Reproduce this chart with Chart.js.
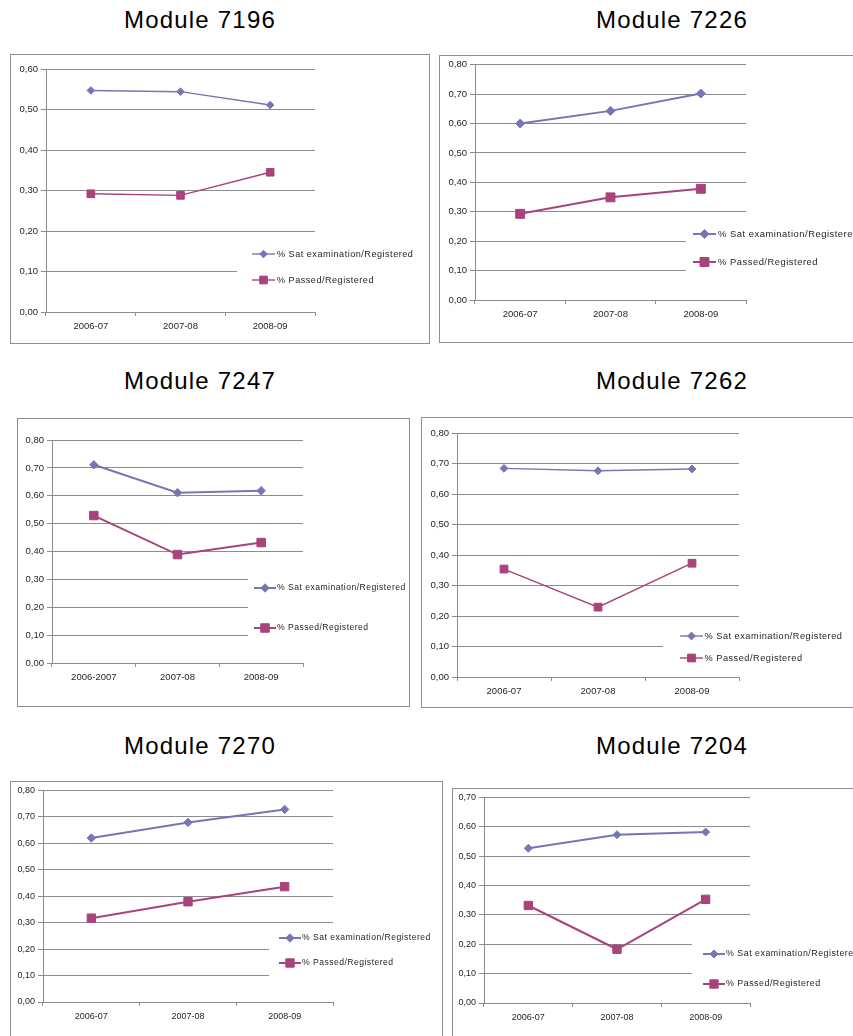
<!DOCTYPE html>
<html>
<head>
<meta charset="utf-8">
<script src="https://cdn.jsdelivr.net/npm/chart.js@4.4.1/dist/chart.umd.min.js"></script>
<style>
  html, body { margin: 0; padding: 0; background: #fff; width: 853px; height: 1036px; overflow: hidden; position: relative; font-family: "Liberation Sans", Arial, sans-serif; }
  .title { position: absolute; width: 400px; text-align: center; font-size: 24px; line-height: 24px; letter-spacing: 1.2px; color: #000; white-space: nowrap; }
  .frame { position: absolute; border: 1px solid #8e8e8e; box-sizing: border-box; }
  canvas { position: absolute; }
</style>
</head>
<body>
<script>
// Academic years on the category axis
const periods = ['2006-07', '2007-08', '2008-09'];
const periods7247 = ['2006-2007', '2007-08', '2008-09'];

// Series names shown in each legend
const seriesNames = ['% Sat examination/Registered', '% Passed/Registered'];

// Module codes (panel titles)
const modules = ['Module 7196', 'Module 7226', 'Module 7247', 'Module 7262', 'Module 7270', 'Module 7204'];

// Ratios per module: students who sat the examination / registered, and passed / registered
const sat7196 = [0.547, 0.544, 0.511];
const passed7196 = [0.292, 0.288, 0.345];

const sat7226 = [0.600, 0.643, 0.702];
const passed7226 = [0.293, 0.349, 0.378];

const sat7247 = [0.711, 0.611, 0.618];
const passed7247 = [0.529, 0.389, 0.432];

const sat7262 = [0.684, 0.676, 0.682];
const passed7262 = [0.354, 0.229, 0.373];

const sat7270 = [0.620, 0.679, 0.728];
const passed7270 = [0.317, 0.379, 0.436];

const sat7204 = [0.527, 0.573, 0.582];
const passed7204 = [0.332, 0.183, 0.353];

// Upper limit of each value axis
const yMax = [0.6, 0.8, 0.8, 0.8, 0.8, 0.7];

// ---- styling ----
const SAT_COLOR = '#7676b4';
const PASS_COLOR = '#a8437b';
const GRID = '#8c8c8c';
const FONT = '"Liberation Sans", Arial, sans-serif';
const PAGE_W = 853, PAGE_H = 1036;
const Y_AXIS_W = 30, X_AXIS_H = 20;

// Layout of each panel: frame box, plot area, title position, legend placement
const panels = [
  { labels: periods, sat: sat7196, passed: passed7196, max: yMax[0], title: modules[0], titleX: 200, titleBase: 28,
    frame: [10, 54, 420, 290], plot: [46, 69, 315, 312], lw: 1.4, dia: 3.8, sq: 5.4, tickSize: 9.5,
    legend: { cutX: 237, top: 240, bottom: 298, lx1: 252, lx2: 275, tx: 277, rows: [254, 280], fs: 9.1 } },
  { labels: periods, sat: sat7226, passed: passed7226, max: yMax[1], title: modules[1], titleX: 672, titleBase: 28,
    frame: [439, 55, 430, 288], plot: [475, 64, 746, 300], lw: 2, dia: 4.5, sq: 6.3, tickSize: 9.5,
    legend: { cutX: 686, top: 222, bottom: 288, lx1: 693, lx2: 716, tx: 718, rows: [234, 262], fs: 9.4 } },
  { labels: periods7247, sat: sat7247, passed: passed7247, max: yMax[2], title: modules[2], titleX: 200, titleBase: 389,
    frame: [17, 418, 393, 289], plot: [52, 440, 303, 663], lw: 2, dia: 4.2, sq: 6.0, tickSize: 9.5,
    legend: { cutX: 248, top: 565, bottom: 650, lx1: 254, lx2: 276, tx: 277, rows: [588, 628], fs: 8.6 } },
  { labels: periods, sat: sat7262, passed: passed7262, max: yMax[3], title: modules[3], titleX: 672, titleBase: 389,
    frame: [421, 417, 440, 291], plot: [457, 433, 739, 677], lw: 1.4, dia: 3.9, sq: 5.5, tickSize: 9.5,
    legend: { cutX: 663, top: 625, bottom: 670, lx1: 680, lx2: 703, tx: 704.5, rows: [636, 658], fs: 9.2 } },
  { labels: periods, sat: sat7270, passed: passed7270, max: yMax[4], title: modules[4], titleX: 200, titleBase: 754,
    frame: [10, 781, 433, 270], plot: [43, 790, 333, 1002], lw: 2, dia: 4.2, sq: 5.9, tickSize: 9,
    legend: { cutX: 269, top: 928, bottom: 990, lx1: 279, lx2: 301, tx: 302, rows: [938, 963], fs: 8.6 } },
  { labels: periods, sat: sat7204, passed: passed7204, max: yMax[5], title: modules[5], titleX: 672, titleBase: 754,
    frame: [452, 788, 420, 270], plot: [484, 796, 750, 1003], lw: 2, dia: 4.0, sq: 5.9, tickSize: 9,
    legend: { cutX: 692, top: 925, bottom: 995, lx1: 703, lx2: 725, tx: 726, rows: [954, 984], fs: 8.9 } }
];

// Legend drawn inside the plot on a white patch, the way the spreadsheet lays it out
const insetLegend = {
  id: 'insetLegend',
  afterDatasetsDraw(chart, args, o) {
    const ctx = chart.ctx;
    ctx.save();
    ctx.fillStyle = '#ffffff';
    ctx.fillRect(o.cutX, o.top, chart.width - o.cutX, o.bottom - o.top);
    chart.data.datasets.forEach((ds, i) => {
      const y = o.rows[i];
      const mx = (o.lx1 + o.lx2) / 2;
      ctx.strokeStyle = ds.borderColor;
      ctx.lineWidth = ds.borderWidth;
      ctx.beginPath();
      ctx.moveTo(o.lx1, y);
      ctx.lineTo(o.lx2, y);
      ctx.stroke();
      ctx.fillStyle = ds.borderColor;
      ctx.lineWidth = 1;
      ctx.beginPath();
      if (ds.pointStyle === 'rectRot') {
        const r = ds.pointRadius;
        ctx.moveTo(mx, y - r); ctx.lineTo(mx + r, y); ctx.lineTo(mx, y + r); ctx.lineTo(mx - r, y);
      } else {
        const h = ds.pointRadius * Math.SQRT1_2;
        ctx.rect(mx - h, y - h, 2 * h, 2 * h);
      }
      ctx.closePath();
      ctx.fill();
      ctx.stroke();
      ctx.fillStyle = '#1e1e1e';
      ctx.font = o.fs + 'px ' + FONT;
      if ('letterSpacing' in ctx) ctx.letterSpacing = (o.fs * 0.055).toFixed(2) + 'px';
      ctx.textAlign = 'left';
      ctx.textBaseline = 'middle';
      ctx.fillText(ds.label, o.tx, y);
    });
    ctx.restore();
  }
};

const fmt = v => Number(v).toFixed(2).replace('.', ',');

panels.forEach((p, idx) => {
  const [fx, fy, fw, fh] = p.frame;
  const frame = document.createElement('div');
  frame.className = 'frame';
  Object.assign(frame.style, { left: fx + 'px', top: fy + 'px', width: fw + 'px', height: fh + 'px' });
  document.body.appendChild(frame);

  const title = document.createElement('div');
  title.className = 'title';
  title.textContent = p.title;
  Object.assign(title.style, { left: (p.titleX - 200) + 'px', top: (p.titleBase - 20.3) + 'px' });
  document.body.appendChild(title);

  const cx = fx + 1, cy = fy + 1;
  const cw = Math.min(fx + fw, PAGE_W + 2) - cx - 1;
  const ch = Math.min(fy + fh, PAGE_H + 2) - cy - 1;
  const canvas = document.createElement('canvas');
  canvas.width = cw; canvas.height = ch;
  Object.assign(canvas.style, { left: cx + 'px', top: cy + 'px', width: cw + 'px', height: ch + 'px' });
  document.body.appendChild(canvas);

  const [L, T, R, B] = p.plot;
  const lg = p.legend;
  const tickFont = { family: FONT, size: p.tickSize };

  new Chart(canvas, {
    type: 'line',
    data: {
      labels: p.labels,
      datasets: [
        { label: seriesNames[0], data: p.sat, borderColor: SAT_COLOR, backgroundColor: SAT_COLOR,
          borderWidth: p.lw, pointStyle: 'rectRot', pointRadius: p.dia, pointBorderWidth: 1, tension: 0 },
        { label: seriesNames[1], data: p.passed, borderColor: PASS_COLOR, backgroundColor: PASS_COLOR,
          borderWidth: p.lw, pointStyle: 'rect', pointRadius: p.sq, pointBorderWidth: 1, tension: 0 }
      ]
    },
    options: {
      responsive: false,
      animation: false,
      devicePixelRatio: 1,
      layout: { padding: { left: L - cx - Y_AXIS_W, top: T - cy, right: cx + cw - R, bottom: cy + ch - B - X_AXIS_H } },
      plugins: {
        legend: { display: false },
        tooltip: { enabled: false },
        insetLegend: {
          cutX: lg.cutX - cx, top: lg.top - cy, bottom: lg.bottom - cy,
          lx1: lg.lx1 - cx, lx2: lg.lx2 - cx, tx: lg.tx - cx,
          rows: lg.rows.map(r => r - cy), fs: lg.fs
        }
      },
      scales: {
        x: {
          type: 'category',
          offset: true,
          grid: { offset: true, drawOnChartArea: false, drawTicks: true, tickLength: 4, color: GRID },
          border: { display: true, color: GRID, width: 1 },
          ticks: { font: tickFont, color: '#262626', padding: 5, maxRotation: 0, autoSkip: false },
          afterFit: s => { s.height = X_AXIS_H; }
        },
        y: {
          min: 0,
          max: p.max,
          grid: { color: GRID, lineWidth: 1, drawTicks: true, tickLength: 5 },
          border: { display: true, color: GRID, width: 1 },
          ticks: { stepSize: 0.1, font: tickFont, color: '#262626', padding: 3, callback: fmt },
          afterFit: s => { s.width = Y_AXIS_W; }
        }
      }
    },
    plugins: [insetLegend]
  });
});
</script>
</body>
</html>
